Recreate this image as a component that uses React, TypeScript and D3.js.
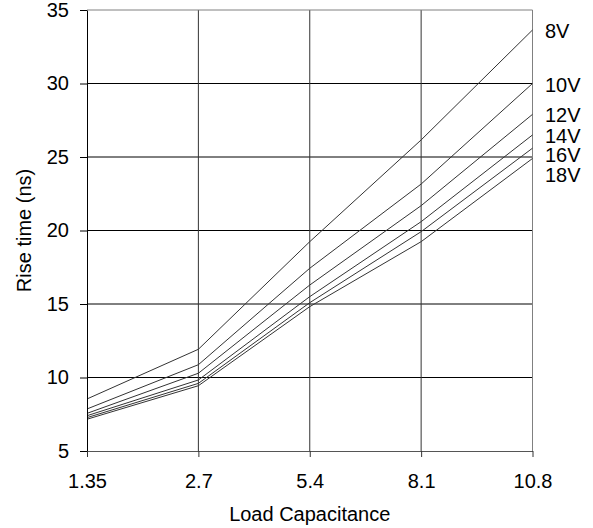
import React, { useEffect, useRef } from 'react';
import * as d3 from 'd3';

const categories = ['1.35', '2.7', '5.4', '8.1', '10.8'];
const seriesNames = ['8V', '10V', '12V', '14V', '16V', '18V'];
const v8 = [8.54, 11.92, 19.24, 26.16, 33.64];
const v10 = [7.86, 10.87, 17.43, 23.16, 30.0];
const v12 = [7.56, 10.29, 16.29, 21.69, 27.9];
const v14 = [7.4, 9.83, 15.5, 20.6, 26.5];
const v16 = [7.27, 9.6, 15.09, 19.92, 25.6];
const v18 = [7.16, 9.44, 14.82, 19.24, 24.9];
const yTicks = [5, 10, 15, 20, 25, 30, 35];

const W = 593;
const H = 528;
const margin = { top: 10, right: 60.5, bottom: 77, left: 87 };
const FONT = '"Liberation Sans", Arial, sans-serif';

const App = () => {
  const ref = useRef<SVGSVGElement>(null);

  useEffect(() => {
    const svg = d3.select(ref.current);
    svg.selectAll('*').remove();

    const series = [v8, v10, v12, v14, v16, v18];
    const x = d3.scalePoint().domain(categories).range([margin.left, W - margin.right]);
    const y = d3.scaleLinear().domain([5, 35]).range([H - margin.bottom, margin.top]);
    const x0 = margin.left;
    const x1 = W - margin.right;
    const y0 = H - margin.bottom;
    const y1 = margin.top;

    // horizontal gridlines
    svg.append('g')
      .selectAll('line')
      .data(yTicks.slice(1, -1))
      .enter()
      .append('line')
      .attr('x1', x0).attr('x2', x1)
      .attr('y1', d => y(d)).attr('y2', d => y(d))
      .attr('stroke', '#000');

    // vertical gridlines
    svg.append('g')
      .selectAll('line')
      .data(categories.slice(1, -1))
      .enter()
      .append('line')
      .attr('x1', d => x(d) as number).attr('x2', d => x(d) as number)
      .attr('y1', y0).attr('y2', y1)
      .attr('stroke', '#333');

    // plot border (top + right)
    svg.append('path')
      .attr('d', `M${x0},${y1}H${x1}V${y0}`)
      .attr('fill', 'none')
      .attr('stroke', '#808080');

    // series lines
    const line = d3.line<number>()
      .x((_, i) => x(categories[i]) as number)
      .y(d => y(d));
    svg.append('g')
      .selectAll('path')
      .data(series)
      .enter()
      .append('path')
      .attr('d', d => line(d))
      .attr('fill', 'none')
      .attr('stroke', '#333')
      .attr('stroke-width', 1);

    // series labels, pushed down to avoid overlap
    const gap = 19.5;
    const labelY: number[] = [];
    series.forEach((s, i) => {
      const end = y(s[s.length - 1]);
      labelY.push(i === 0 ? end : Math.max(end, labelY[i - 1] + gap));
    });
    svg.append('g')
      .selectAll('text')
      .data(seriesNames)
      .enter()
      .append('text')
      .attr('x', x1 + 12.5)
      .attr('y', (_, i) => labelY[i] + 1)
      .attr('dy', '0.35em')
      .style('font-family', FONT)
      .style('font-size', '20px')
      .text(d => d);

    // y axis
    const yAxis = svg.append('g')
      .attr('transform', `translate(${x0},0)`)
      .call(d3.axisLeft(y).tickValues(yTicks).tickSize(7).tickPadding(11).tickSizeOuter(0));
    yAxis.select('.domain').attr('stroke', '#000');
    yAxis.selectAll('.tick line').attr('stroke', '#000');
    yAxis.selectAll('text')
      .style('font-family', FONT)
      .style('font-size', '20px')
      .attr('fill', '#000');

    // x axis
    const xAxis = svg.append('g')
      .attr('transform', `translate(0,${y0})`)
      .call(d3.axisBottom(x).tickSize(6).tickPadding(17).tickSizeOuter(0));
    xAxis.select('.domain').attr('stroke', '#555');
    xAxis.selectAll('.tick line').attr('stroke', '#333');
    xAxis.selectAll('text')
      .style('font-family', FONT)
      .style('font-size', '20px')
      .attr('fill', '#000');

    // axis titles
    svg.append('text')
      .attr('x', (x0 + x1) / 2)
      .attr('y', 521)
      .attr('text-anchor', 'middle')
      .style('font-family', FONT)
      .style('font-size', '20px')
      .text('Load Capacitance');

    svg.append('text')
      .attr('transform', `translate(31,${(y0 + y1) / 2}) rotate(-90)`)
      .attr('text-anchor', 'middle')
      .style('font-family', FONT)
      .style('font-size', '20px')
      .text('Rise time (ns)');
  }, []);

  return (
    <svg
      ref={ref}
      width={W}
      height={H}
      style={{ position: 'absolute', left: 0, top: 0, background: '#fff' }}
    />
  );
};

export default App;
